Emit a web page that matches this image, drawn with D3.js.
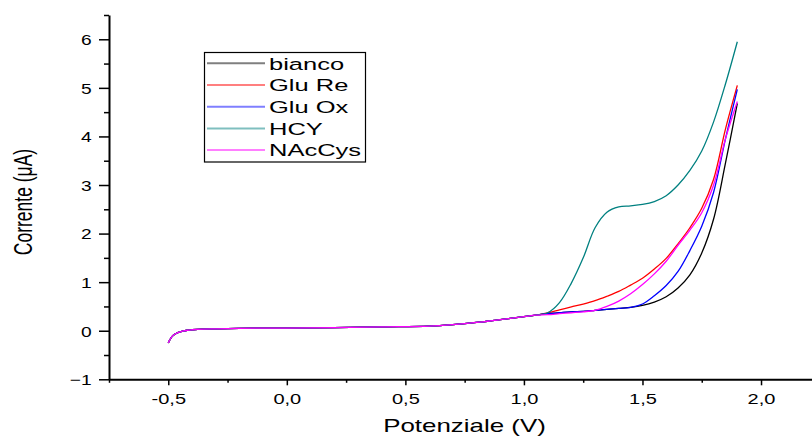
<!DOCTYPE html>
<html>
<head>
<meta charset="utf-8">
<script src="https://cdn.jsdelivr.net/npm/d3@7"></script>
<style>
  html, body { margin: 0; padding: 0; background: #fff; }
  svg { display: block; font-family: "Liberation Sans", Arial, sans-serif; }
</style>
</head>
<body>
<svg id="chart" width="812" height="436"></svg>
<script>
// Potential sweep (V) shared by every voltammogram
const potential = [-0.5, -0.49, -0.48, -0.46, -0.44, -0.42, -0.4, -0.35, -0.3, -0.2,
  0, 0.2, 0.4, 0.6, 0.7, 0.8, 0.9, 1.0, 1.05, 1.1, 1.15, 1.2, 1.25, 1.3, 1.35,
  1.4, 1.45, 1.5, 1.55, 1.6, 1.65, 1.7, 1.75, 1.8, 1.85, 1.9];

// Current (µA) for each sample
const bianco = [-0.25, -0.16, -0.1, -0.04, -0.01, 0.01, 0.02, 0.035, 0.04, 0.05,
  0.055, 0.065, 0.08, 0.095, 0.125, 0.17, 0.23, 0.29, 0.32, 0.35, 0.37, 0.39, 0.40, 0.42, 0.44,
  0.46, 0.48, 0.52, 0.59, 0.70, 0.88, 1.15, 1.6, 2.3, 3.45, 4.68];
const gluRe = [-0.25, -0.16, -0.1, -0.04, -0.01, 0.01, 0.02, 0.035, 0.04, 0.05,
  0.055, 0.065, 0.08, 0.095, 0.125, 0.17, 0.23, 0.29, 0.32, 0.37, 0.43, 0.49, 0.55, 0.62, 0.71,
  0.81, 0.94, 1.08, 1.27, 1.49, 1.79, 2.12, 2.52, 3.12, 4.15, 5.05];
const gluOx = [-0.25, -0.16, -0.1, -0.04, -0.01, 0.01, 0.02, 0.035, 0.04, 0.05,
  0.055, 0.065, 0.08, 0.095, 0.125, 0.17, 0.23, 0.29, 0.32, 0.35, 0.37, 0.39, 0.40, 0.42, 0.44,
  0.46, 0.48, 0.55, 0.72, 0.93, 1.22, 1.65, 2.15, 2.85, 3.95, 4.97];
const hcy = [-0.25, -0.16, -0.1, -0.04, -0.01, 0.01, 0.02, 0.035, 0.04, 0.05,
  0.055, 0.065, 0.08, 0.095, 0.125, 0.17, 0.23, 0.29, 0.32, 0.37, 0.58, 0.98, 1.5, 2.12, 2.44,
  2.55, 2.57, 2.6, 2.66, 2.78, 3.0, 3.3, 3.7, 4.3, 5.08, 5.95];
const nacCys = [-0.25, -0.16, -0.1, -0.04, -0.01, 0.01, 0.02, 0.035, 0.04, 0.05,
  0.055, 0.065, 0.08, 0.095, 0.125, 0.17, 0.23, 0.29, 0.32, 0.33, 0.35, 0.37, 0.39, 0.42, 0.50,
  0.61, 0.76, 0.95, 1.17, 1.43, 1.76, 2.07, 2.43, 3.0, 3.95, 4.72];

const seriesNames = ["bianco", "Glu Re", "Glu Ox", "HCY", "NAcCys"];
const seriesValues = [bianco, gluRe, gluOx, hcy, nacCys];
const seriesColors = ["#000000", "#ff0000", "#0000ff", "#008080", "#ff00ff"];

const xMajor = [-0.5, 0, 0.5, 1.0, 1.5, 2.0];
const xMinor = [-0.75, -0.25, 0.25, 0.75, 1.25, 1.75, 2.25];
const yMajor = [-1, 0, 1, 2, 3, 4, 5, 6];
const yMinor = [-0.5, 0.5, 1.5, 2.5, 3.5, 4.5, 5.5, 6.5];

const svg = d3.select("#chart");

const x = d3.scaleLinear().domain([-0.75, 2.25]).range([109, 820.3]);
const y = d3.scaleLinear().domain([-1, 6.5]).range([379.3, 15]);

// the typeface is drawn horizontally widened
function wideText(parent, px, py, str, size, k, anchor, rot) {
  return parent.append("text")
    .attr("transform", `translate(${px},${py}) scale(${k},1)` + (rot ? ` rotate(${rot})` : ""))
    .attr("font-size", size)
    .attr("text-anchor", anchor)
    .attr("fill", "#000")
    .text(str);
}

// curves
const line = d3.line()
  .x((d, i) => x(potential[i]))
  .y(d => y(d))
  .curve(d3.curveCatmullRom.alpha(0.5));

const plot = svg.append("g");
seriesValues.forEach((vals, s) => {
  plot.append("path")
    .datum(vals)
    .attr("d", line)
    .attr("fill", "none")
    .attr("stroke", seriesColors[s])
    .attr("stroke-width", 1.3);
});

// y axis
const yAxisG = svg.append("g").attr("transform", "translate(109,0)");
yAxisG.call(d3.axisLeft(y).tickValues(yMajor).tickSize(10).tickSizeOuter(0).tickFormat(d3.format("d")));
yAxisG.append("g").call(d3.axisLeft(y).tickValues(yMinor).tickSize(5).tickSizeOuter(0).tickFormat(""))
  .select(".domain").remove();
yAxisG.selectAll(".domain").attr("stroke-width", 2);
yAxisG.selectAll(".tick line").attr("stroke-width", 1.5);
yAxisG.selectAll(".tick text")
  .attr("x", -13.5).attr("dy", "0.36em")
  .attr("transform", "scale(1.28,1)")
  .attr("font-size", 15).attr("font-family", "Liberation Sans, Arial, sans-serif").attr("fill", "#000");

// x axis
const xAxisG = svg.append("g").attr("transform", "translate(0,379.3)");
xAxisG.call(d3.axisBottom(x).tickValues(xMajor).tickSize(6).tickSizeOuter(0)
  .tickFormat(d => d3.format(".1f")(d).replace(".", ",").replace("−", "-")));
xAxisG.append("g").call(d3.axisBottom(x).tickValues(xMinor).tickSize(3.5).tickSizeOuter(0).tickFormat(""))
  .select(".domain").remove();
xAxisG.selectAll(".domain").attr("stroke-width", 2);
xAxisG.selectAll(".tick line").attr("stroke-width", 1.5);
xAxisG.selectAll(".tick text")
  .attr("y", 24.7).attr("dy", 0)
  .attr("transform", "scale(1.38,1)")
  .attr("font-size", 14.5).attr("font-family", "Liberation Sans, Arial, sans-serif").attr("fill", "#000");

// axis titles
wideText(svg, 464.5, 431.5, "Potenziale (V)", 18.5, 1.4, "middle");
wideText(svg, 31.5, 202, "Corrente (\u03BCA)", 17.5, 1.45, "middle", -90);

// legend
const legend = svg.append("g");
legend.append("rect")
  .attr("x", 204.5).attr("y", 52.5).attr("width", 161).attr("height", 109.5)
  .attr("fill", "#fff").attr("stroke", "#000").attr("stroke-width", 1.2);
seriesNames.forEach((name, i) => {
  const cy = 63.3 + i * 21.7;
  legend.append("line")
    .attr("x1", 207).attr("x2", 265).attr("y1", cy).attr("y2", cy)
    .attr("stroke", seriesColors[i]).attr("stroke-width", 2).attr("stroke-opacity", 0.5);
  wideText(legend, 269, cy + 6.2, name, 17, 1.5, "start");
});
</script>
</body>
</html>
